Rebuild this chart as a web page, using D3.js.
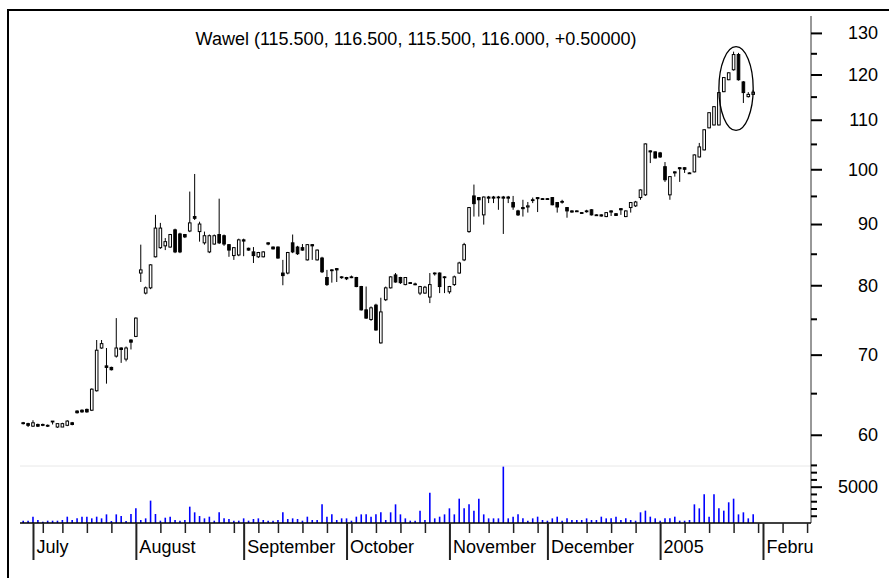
<!DOCTYPE html>
<html>
<head>
<meta charset="utf-8">
<script src="https://cdn.jsdelivr.net/npm/d3@7"></script>
<style>
  body { margin: 0; background: #fff; }
  text { font-family: "Liberation Sans", Arial, sans-serif; font-size: 18px; fill: #000; }
</style>
</head>
<body>
<svg id="chart"></svg>
<script>
const ticker = "Wawel"
const firstDay = -2   // trading-day index of the first candle (July 1 = 0)

const opens = [
  61.4, 61.3, 61.0, 61.2, 61.2, 61.1, 61.6, 60.9, 60.9, 61.1,
  61.4, 62.8, 62.9, 63.0, 62.9, 65.3, 70.9, 68.5, 68.3, 69.8,
  70.9, 69.4, 72.0, 72.5, 81.9, 78.8, 79.6, 84.5, 86.0, 86.3,
  86.1, 89.0, 88.3, 88.2, 88.8, 91.3, 88.7, 86.8, 85.3, 86.6,
  88.2, 88.0, 86.5, 84.7, 84.8, 87.3, 85.9, 85.3, 84.5, 84.5,
  86.8, 86.1, 86.1, 81.9, 81.9, 86.8, 86.1, 86.0, 84.0, 86.5,
  84.0, 84.3, 81.2, 82.4, 82.6, 81.3, 81.2, 81.3, 81.2, 79.8,
  76.3, 74.9, 77.0, 71.6, 77.8, 79.6, 81.6, 81.2, 80.1, 80.4,
  80.2, 78.8, 78.8, 78.2, 81.9, 81.9, 81.3, 79.0, 80.1, 81.9,
  84.0, 88.7, 95.0, 94.7, 91.6, 94.8, 94.8, 94.8, 94.8, 94.8,
  93.8, 92.3, 92.9, 93.0, 94.3, 94.7, 94.5, 94.5, 94.7, 93.8,
  94.0, 92.9, 92.3, 92.3, 92.0, 92.3, 92.5, 91.6, 91.6, 91.3,
  92.3, 91.8, 92.7, 91.3, 92.9, 93.2, 94.7, 95.2, 103.6, 103.4,
  103.2, 100.5, 95.2, 99.5, 100.3, 100.3, 99.3, 99.5, 102.4, 103.8,
  108.3, 108.9, 108.9, 116.1, 118.8, 121.1, 124.7, 118.3, 115.0, 115.5
]
const highs = [
  61.5, 61.4, 61.7, 61.3, 61.3, 61.2, 61.6, 61.3, 61.4, 61.7,
  61.5, 62.9, 63.0, 63.1, 65.6, 72.0, 72.0, 70.9, 68.4, 75.1,
  71.0, 71.1, 72.1, 75.2, 86.5, 79.8, 83.3, 91.6, 90.2, 87.6,
  88.3, 89.2, 88.5, 88.3, 95.8, 99.1, 90.4, 88.7, 88.2, 88.2,
  94.5, 88.2, 86.6, 86.1, 87.5, 87.5, 86.0, 86.1, 85.3, 85.4,
  86.9, 86.2, 86.2, 84.0, 85.3, 88.2, 86.3, 86.6, 86.6, 86.6,
  85.7, 84.5, 82.4, 82.5, 82.7, 81.4, 81.3, 81.5, 81.3, 79.9,
  79.8, 76.8, 77.2, 78.1, 79.8, 81.4, 81.9, 81.3, 81.2, 80.5,
  80.4, 79.9, 79.9, 81.9, 82.0, 82.0, 81.4, 79.9, 81.5, 83.7,
  86.8, 93.0, 97.1, 94.8, 94.9, 95.0, 95.0, 95.0, 95.0, 95.0,
  95.0, 92.5, 94.3, 93.9, 94.7, 94.8, 94.6, 94.6, 94.8, 93.9,
  94.3, 93.0, 92.4, 92.4, 92.1, 92.5, 92.6, 91.7, 91.7, 92.1,
  92.4, 91.9, 92.8, 92.4, 93.9, 94.1, 96.2, 105.1, 103.7, 103.5,
  103.4, 101.4, 98.7, 99.6, 100.4, 100.4, 99.4, 102.9, 105.2, 108.0,
  111.6, 112.9, 116.0, 119.4, 120.5, 125.4, 125.1, 118.5, 116.0, 116.5
]
const lows = [
  61.2, 60.9, 60.9, 60.9, 61.0, 60.9, 61.2, 60.8, 60.9, 61.0,
  61.1, 62.5, 62.6, 62.6, 62.8, 65.2, 70.8, 66.2, 67.9, 69.6,
  68.9, 69.1, 70.7, 72.4, 80.5, 78.6, 79.4, 84.4, 85.8, 85.6,
  86.0, 85.1, 85.1, 87.6, 88.6, 90.7, 87.0, 86.5, 85.1, 86.5,
  86.6, 86.3, 84.5, 84.0, 84.6, 84.6, 85.5, 83.5, 84.3, 84.4,
  86.4, 85.7, 84.2, 80.0, 81.7, 85.1, 84.8, 85.5, 83.9, 84.0,
  83.9, 81.9, 79.9, 80.4, 80.5, 81.0, 80.8, 81.1, 79.7, 76.2,
  75.0, 74.7, 73.3, 71.5, 77.6, 79.5, 80.4, 80.2, 80.0, 80.2,
  80.0, 78.5, 78.7, 77.3, 81.5, 78.8, 78.8, 78.7, 79.9, 81.8,
  83.8, 88.5, 91.3, 91.3, 89.9, 93.7, 93.7, 92.5, 88.3, 93.7,
  92.5, 91.4, 91.3, 92.0, 93.7, 92.1, 94.3, 94.3, 93.3, 92.0,
  93.6, 91.1, 92.0, 92.1, 91.8, 92.0, 91.5, 91.4, 91.3, 91.2,
  91.4, 91.4, 91.6, 91.2, 92.0, 93.0, 94.3, 95.0, 101.2, 102.1,
  102.2, 97.6, 94.3, 98.6, 97.6, 99.3, 99.1, 99.4, 102.3, 103.7,
  108.2, 108.8, 108.8, 116.0, 118.7, 120.9, 118.6, 113.6, 114.8, 115.5
]
const closes = [
  61.3, 61.1, 61.4, 61.0, 61.1, 61.0, 61.5, 61.3, 61.3, 61.6,
  61.2, 62.6, 62.7, 62.7, 65.5, 70.6, 71.5, 68.3, 68.0, 70.9,
  70.7, 70.9, 71.7, 75.1, 82.4, 79.6, 83.2, 89.3, 89.3, 87.0,
  88.2, 85.3, 85.3, 87.8, 90.2, 91.0, 90.0, 88.0, 88.0, 88.0,
  86.8, 86.6, 85.6, 86.0, 87.3, 87.1, 85.6, 84.7, 85.2, 85.3,
  86.6, 85.8, 84.3, 81.5, 85.2, 85.3, 85.0, 85.6, 86.5, 86.3,
  85.6, 82.1, 80.1, 82.3, 82.4, 81.2, 81.0, 81.2, 79.8, 76.3,
  75.1, 76.6, 73.4, 76.0, 79.6, 81.3, 80.5, 80.4, 81.2, 80.3,
  80.1, 79.8, 79.7, 80.1, 81.8, 79.8, 81.2, 79.8, 81.3, 83.5,
  86.5, 92.9, 93.6, 94.3, 94.8, 94.6, 94.6, 94.7, 94.6, 94.6,
  93.0, 91.6, 92.7, 93.2, 94.2, 94.5, 94.4, 94.4, 93.4, 93.0,
  93.9, 92.3, 92.1, 92.2, 91.9, 92.2, 91.6, 91.5, 91.4, 92.0,
  92.1, 91.5, 92.5, 92.3, 93.8, 93.9, 96.1, 105.0, 103.4, 102.2,
  102.4, 98.0, 98.6, 99.3, 100.1, 100.0, 99.2, 102.8, 104.4, 107.9,
  111.5, 112.8, 115.9, 119.3, 120.4, 124.7, 118.8, 115.9, 115.5, 116.0
]
const volumes = [
  320, 320, 870, 410, 180, 320, 320, 320, 410, 870,
  410, 640, 870, 870, 640, 870, 640, 1190, 275, 1190,
  960, 275, 1240, 2020, 410, 640, 3080, 1240, 320, 730,
  870, 410, 320, 410, 2250, 1470, 960, 640, 870, 320,
  1470, 640, 550, 320, 320, 640, 320, 550, 640, 410,
  320, 320, 410, 1470, 550, 640, 550, 320, 870, 410,
  410, 2570, 870, 1190, 410, 640, 640, 320, 870, 1190,
  1190, 870, 1190, 1470, 410, 1470, 2570, 1190, 640, 320,
  320, 1700, 410, 4180, 640, 870, 1190, 2020, 1190, 3350,
  2020, 2570, 1700, 3350, 1190, 640, 640, 640, 7760, 640,
  870, 1190, 640, 320, 640, 870, 410, 320, 640, 870,
  320, 640, 410, 410, 410, 640, 410, 410, 870, 640,
  640, 870, 410, 640, 410, 320, 1470, 1700, 870, 640,
  320, 640, 640, 870, 320, 320, 410, 2570, 2020, 3950,
  870, 3950, 2020, 1700, 2850, 3350, 1190, 1470, 640, 1190
]

const monthLabels = ["July", "August", "September", "October", "November", "December", "2005", "Febru"]
const monthStarts = [0, 21, 43, 64, 85, 105, 128, 149]
const weekTicks = [2, 6, 11, 16, 26, 31, 36, 41, 46, 50, 55, 60, 65, 70, 75, 80, 89, 93, 98, 103,
                   108, 113, 118, 123, 133, 138, 143, 148, 153, 158]
const priceMajor = [60, 70, 80, 90, 100, 110, 120, 130]
const priceMinor = [65, 75, 85, 95, 105, 115, 125]
const volMajor = [5000]
const volMinor = [1000, 2000, 3000, 4000, 6000, 7000, 8000]
const circled = [140, 147]   // annotated range of days

const W = 889, H = 578
const svg = d3.select("#chart").attr("width", W).attr("height", H)

const x = d3.scaleLinear().domain([-2.65, 158.8]).range([20, 811])
const y = d3.scaleLog().domain([56.5, 134.3]).range([466, 16])
const yv = d3.scaleLinear().domain([0, 8000]).range([523, 464.9])

const days = opens.map(function(o, i) {
  return {day: i + firstDay, o: o, h: highs[i], l: lows[i], c: closes[i], v: volumes[i]}
})

// frame
svg.append("rect")
  .attr("x", 8).attr("y", 10)
  .attr("width", 900).attr("height", 600)
  .attr("fill", "none").attr("stroke", "#000").attr("stroke-width", 2)

// pane separator
svg.append("line")
  .attr("x1", 20).attr("x2", 811)
  .attr("y1", 466).attr("y2", 466)
  .attr("stroke", "#e8e8e8")

// title from the last candle
const last = days[days.length - 1], prev = days[days.length - 2]
const f3 = d3.format(".3f")
svg.append("text")
  .attr("x", 416).attr("y", 45)
  .attr("text-anchor", "middle")
  .text(`${ticker} (${f3(last.o)}, ${f3(last.h)}, ${f3(last.l)}, ${f3(last.c)}, ${d3.format("+.5f")(last.c - prev.c)})`)

// volume bars
svg.append("g").selectAll("line")
  .data(days)
  .enter().append("line")
  .attr("x1", d => x(d.day)).attr("x2", d => x(d.day))
  .attr("y1", yv(0)).attr("y2", d => yv(d.v))
  .attr("stroke", "#0000ff").attr("stroke-width", 1.6)

// candles
const candle = svg.append("g").selectAll("g")
  .data(days)
  .enter().append("g")

candle.append("line")
  .attr("x1", d => x(d.day)).attr("x2", d => x(d.day))
  .attr("y1", d => y(d.h)).attr("y2", d => y(d.l))
  .attr("stroke", "#000").attr("stroke-width", 1)

candle.append("rect")
  .attr("x", d => x(d.day) - 1.3)
  .attr("width", 2.6)
  .attr("y", d => y(Math.max(d.o, d.c)))
  .attr("height", d => Math.max(0.8, Math.abs(y(d.o) - y(d.c))))
  .attr("fill", d => d.c >= d.o ? "#fff" : "#000")
  .attr("stroke", "#000").attr("stroke-width", 1)

// annotation ellipse
const cd = days.filter(d => d.day >= circled[0] && d.day <= circled[1])
const yTop = y(d3.max(cd, d => d.h)), yBot = y(d3.min(cd, d => d.l))
svg.append("ellipse")
  .attr("cx", (x(circled[0]) + x(circled[1])) / 2)
  .attr("cy", (yTop + yBot) / 2)
  .attr("rx", (x(circled[1]) - x(circled[0])) / 2)
  .attr("ry", (yBot - yTop) / 2 + 5)
  .attr("fill", "none").attr("stroke", "#000").attr("stroke-width", 1.3)

// right axes
svg.append("line")
  .attr("x1", 811).attr("x2", 811).attr("y1", 16).attr("y2", 523)
  .attr("stroke", "#333").attr("stroke-width", 1)

function rightAxis(scale, values, size, labels) {
  const g = svg.append("g")
    .attr("transform", "translate(811,0)")
    .call(d3.axisRight(scale).tickValues(values).tickSize(size).tickFormat(labels ? d3.format("d") : ""))
  g.select(".domain").remove()
  g.selectAll(".tick line").attr("stroke", "#000").attr("stroke-width", 2)
  g.selectAll(".tick text")
    .attr("x", 67).attr("text-anchor", "end")
    .style("font-size", "18px").style("font-family", null)
  return g
}
rightAxis(y, priceMinor, 6, false)
rightAxis(y, priceMajor, 11, true)
rightAxis(yv, volMinor, 6, false)
rightAxis(yv, volMajor, 11, true)

// bottom axis
svg.append("line")
  .attr("x1", 20).attr("x2", 811).attr("y1", 523).attr("y2", 523)
  .attr("stroke", "#000").attr("stroke-width", 1.5)

const weekAxis = svg.append("g")
  .attr("transform", "translate(0,523)")
  .call(d3.axisBottom(x).tickValues(weekTicks).tickSize(10).tickFormat(""))
weekAxis.select(".domain").remove()
weekAxis.selectAll(".tick line").attr("stroke", "#222").attr("stroke-width", 1.5)

const monthAxis = svg.append("g")
  .attr("transform", "translate(0,523)")
  .call(d3.axisBottom(x).tickValues(monthStarts).tickSize(37)
    .tickFormat((d, i) => monthLabels[i]))
monthAxis.select(".domain").remove()
monthAxis.selectAll(".tick line").attr("stroke", "#222").attr("stroke-width", 2)
monthAxis.selectAll(".tick text")
  .attr("x", 3).attr("y", 30).attr("dy", null)
  .attr("text-anchor", "start")
  .style("font-size", "18px").style("font-family", null)
</script>
</body>
</html>
